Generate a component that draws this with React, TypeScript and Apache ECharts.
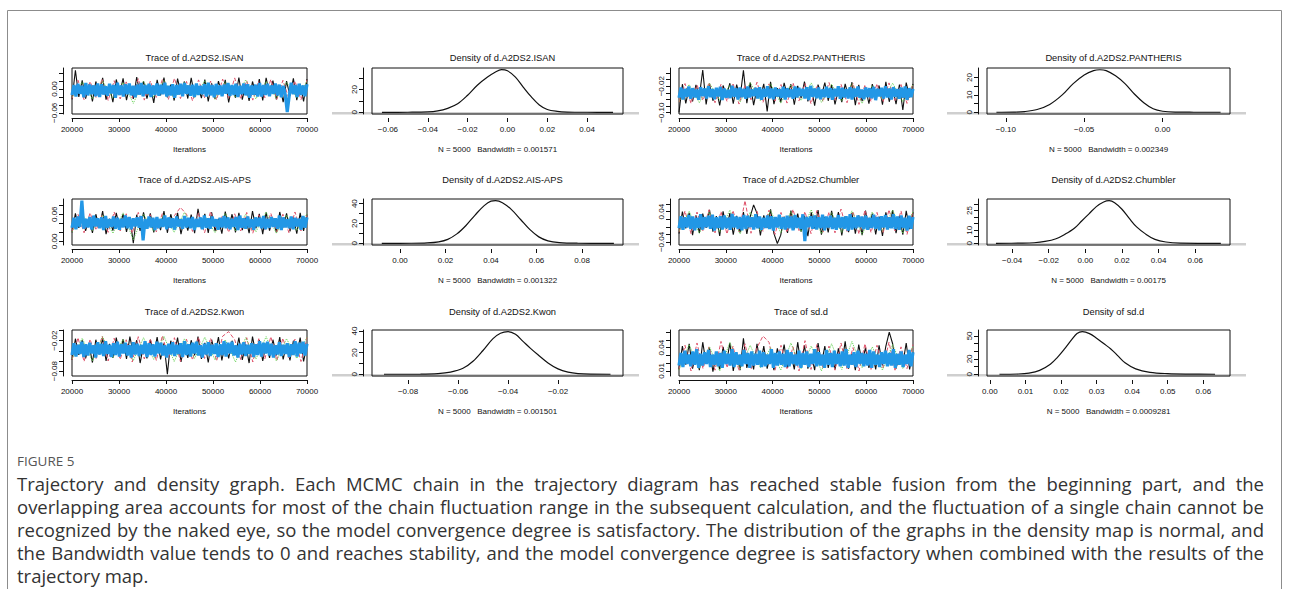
import React, { useEffect, useRef } from "react";
import * as echarts from "echarts";

// ---------------- data ----------------
const ITER_START = 20000;
const ITER_END = 70000;
const ITER_TICKS = [20000, 30000, 40000, 50000, 60000, 70000];

// Trace chains (values in thousandths)
const ISAN_BLUE = [-15,10,-19,13,-12,8,-21,15,-16,11,-13,9,-18,14,-20,12,-14,7,-17,13,
-11,10,-22,16,-15,9,-19,12,-13,14,-16,8,-21,11,-14,15,-18,10,-12,13,
-20,9,-15,14,-17,11,-13,16,-19,8,-16,12,-22,10,-14,13,-18,15,-12,9,
-17,11,-20,14,-15,8,-13,12,-19,16,-16,10,-21,13,-14,9,-18,11,-12,15,
-17,10,-15,13,-20,8,-13,14,-16,12,-22,9,-14,11,-19,15,-19,10,-15,13,
-18,9,-12,14,-16,11,-21,8,-14,-58,-17,16,-13,10,-20,13,-15,9,-18,12];
const ISAN_BLACK = [-26,47,-20,22,-24,12,-31,19,-15,28,-27,8,-33,24,-12,27,-28,10,-25,30,
-14,20,-24,9,-35,23,-16,29,-21,11,-29,26,-13,19,-24,28,-18,7,-23,24,
-31,14,-25,20,-12,23,-34,9,-22,29,-27,12,-30,19,-15,25,-29,28,-13,21,
-26,10,-33,20,-17,27,-28,13,-31,25];
const ISAN_PINK = [-24,22,-27,19,-22,25,-29,21,-25,18,-23,26,-28,20,-21,24,-26,27,-24,19,-30,23,-22,20,-27,25,-23,28,-25,21,-28,19,-22,24,-26,22,-24,20,-27,23];
const ISAN_GREEN = [-21,18,-25,20,-23,16,-36,19,-20,22,-24,17,-22,21,-26,18,-21,23,-25,19,-23,17,-22,20];

const PAN_BLUE = [-55,-24,-60,-28,-52,-21,-58,-26,-54,-30,-61,-23,-50,-27,-57,-20,-53,-29,-59,-25,
-51,-22,-62,-27,-55,-31,-56,-19,-52,-26,-60,-24,-53,-28,-58,-21,-54,-30,-50,-25,
-57,-23,-61,-28,-52,-20,-56,-27,-59,-24,-51,-29,-55,-22,-60,-26,-53,-30,-58,-21,
-54,-25,-50,-28,-57,-23,-62,-19,-52,-27,-56,-24,-59,-30,-53,-22,-55,-26,-61,-28,
-51,-20,-58,-25,-54,-29,-57,-23,-60,-27,-52,-21,-55,-30,-59,-24,-53,-26,-56,-22,
-62,-28,-51,-25,-57,-20,-54,-27,-60,-23,-52,-29,-58,-24,-55,-21,-61,-26,-53,-28];
const PAN_BLACK = [-99,-14,-72,-25,-66,-16,-50,29,-75,-12,-64,-28,-78,-18,-48,-11,-73,-15,-55,28,
-71,-9,-77,-27,-52,-13,-96,-7,-74,-26,-69,-10,-51,-14,-76,-19,-56,-6,-66,-22,
-79,-15,-49,-9,-64,-17,-75,-30,-68,-13,-53,-8,-77,-16,-65,-24,-73,-14,-50,-18,
-76,-7,-67,-26,-74,-15,-92,-9,-54,-13];
const PAN_PINK = [-68,-12,-72,-16,-63,-9,-70,-14,-66,-11,-74,-17,-61,-8,-69,-13,-65,-15,-71,-10,-64,-12,-73,-18,-67,-9,-62,-14,-70,-11,-75,-16,-66,-13,-68,-10,-63,-15,-72,-12];
const PAN_GREEN = [-66,-15,-70,-11,-62,-17,-68,-9,-64,-13,-71,-16,-63,-10,-69,-14,-65,-12,-72,-18,-61,-11,-67,-15];

const AIS_BLUE = [30,52,27,55,32,90,28,50,31,54,26,57,33,51,29,53,25,56,30,49,
32,55,28,52,26,50,31,57,29,54,27,51,33,53,30,56,2,49,28,55,
31,52,25,54,29,50,32,57,27,53,30,51,26,55,33,49,28,56,31,52,
29,54,25,50,32,53,27,57,30,51,28,55,33,49,26,52,31,56,29,53,
27,50,32,54,25,57,30,51,28,55,31,49,26,53,33,52,29,56,27,50,
30,54,32,51,28,57,25,53,31,49,29,55,27,52,33,50,26,56,30,53];
const AIS_BLACK = [20,62,30,59,23,52,19,60,31,67,16,50,24,63,29,61,21,53,-4,59,
23,64,30,62,20,51,25,67,19,60,32,63,16,52,24,59,18,72,28,61,
19,64,23,50,17,66,30,60,20,63,25,52,18,67,29,61,16,64,24,51,
20,65,31,62,22,53,17,63,23,59];
const AIS_PINK = [22,60,19,63,25,58,20,65,23,61,18,64,24,59,21,62,26,57,75,60,22,63,19,66,24,58,20,61,23,64,18,59,25,62,21,60,19,65,23,58];
const AIS_GREEN = [21,61,24,58,18,63,3,60,22,59,20,64,25,57,19,62,23,60,21,65,18,58,24,61];

const CHU_BLUE = [-4,28,-8,25,-2,31,-6,27,-9,24,-3,33,-7,26,-1,29,-5,32,-10,25,
-3,28,-7,30,-4,24,-8,34,-2,27,-6,26,-9,31,-5,29,-1,25,-7,33,
-4,27,-8,24,-3,30,-6,28,-10,26,-2,32,-5,25,-7,29,-4,27,-9,31,
-3,24,-6,33,-38,26,-1,28,-5,30,-7,25,-4,32,-9,27,-2,29,-6,24,
-8,31,-3,26,-5,28,-10,33,-7,25,-4,30,-1,27,-6,29,-8,24,-3,32,
-5,26,-9,28,-2,31,-7,25,-4,33,-6,27,-8,30,-3,24,-10,29,-5,26];
const CHU_BLACK = [-18,40,-4,37,-22,30,-16,35,-3,45,-13,28,-24,41,-5,36,-21,29,-15,39,
-19,27,58,36,-23,30,-2,46,-18,-44,-22,27,-16,43,-6,35,-13,29,-25,38,
-4,44,-21,26,-15,42,-3,39,-23,28,-14,37,-18,30,-22,43,-5,35,-20,27,
-24,38,-2,44,-17,29,-21,42,-6,39];
const CHU_PINK = [-14,42,-18,39,-11,45,-16,40,-19,43,-13,69,-17,41,-12,44,-20,38,-15,46,-10,40,-18,43,-14,39,-16,47,-12,41,-19,44,-15,38,-17,45,-11,42,-20,40];
const CHU_GREEN = [-12,41,-17,38,-14,44,-19,39,-11,43,-16,40,-13,45,-18,37,-15,42,-20,39,-12,44,-17,40];

const KWON_BLUE = [-48,-25,-51,-28,-46,-22,-52,-27,-49,-24,-45,-29,-53,-23,-47,-26,-50,-21,-46,-28,
-52,-25,-48,-22,-51,-27,-45,-24,-49,-29,-53,-23,-47,-26,-50,-28,-46,-21,-52,-25,
-48,-27,-51,-22,-45,-24,-49,-29,-53,-26,-47,-23,-50,-28,-46,-25,-52,-21,-48,-27,
-51,-24,-45,-22,-49,-29,-53,-26,-47,-23,-50,-28,-46,-25,-52,-27,-48,-21,-51,-24,
-45,-22,-49,-29,-53,-26,-47,-23,-50,-28,-46,-25,-52,-27,-48,-21,-51,-24,-45,-22,
-49,-26,-53,-29,-47,-23,-50,-28,-46,-25,-52,-27,-48,-21,-51,-24,-45,-22,-49,-26];
const KWON_BLACK = [-58,-16,-48,-19,-55,-27,-63,-18,-47,-15,-60,-26,-54,-14,-49,-17,-56,-12,-46,-19,
-64,-28,-55,-18,-48,-13,-57,-25,-86,-20,-47,-14,-62,-27,-54,-19,-49,-12,-56,-24,
-63,-18,-46,-13,-59,-26,-55,-20,-48,-14,-58,-27,-64,-12,-47,-19,-60,-25,-54,-18,
-49,-13,-57,-26,-59,-20,-46,-14,-61,-28];
const KWON_PINK = [-58,-14,-61,-17,-55,-11,-60,-15,-57,-18,-62,-12,-56,-16,-59,-10,-54,-14,-61,-17,-58,-13,-55,-15,-60,-11,-2,-18,-57,-14,-62,-16,-56,-12,-59,-15,-54,-17,-61,-13];
const KWON_GREEN = [-56,-15,-60,-12,-54,-17,-59,-14,-57,-11,-61,-16,-55,-13,-58,-18,-62,-14,-56,-12,-60,-16,-55,-13];

const SDD_BLUE = [17,33,15,36,19,31,16,35,18,38,14,32,17,34,19,37,15,31,18,35,
16,33,14,36,19,32,17,38,15,34,18,31,16,37,19,33,14,35,17,32,
18,36,15,34,16,31,19,38,14,33,17,35,18,32,15,37,16,34,19,31,
17,36,14,33,18,35,15,32,19,38,16,34,17,31,14,37,18,33,15,36,
19,32,16,35,17,38,14,31,18,34,15,36,19,33,16,32,17,37,14,35,
18,31,15,34,19,36,16,33,17,38,14,32,18,35,15,31,19,37,16,34];
const SDD_BLACK = [12,42,18,45,13,33,11,47,19,39,9,32,12,41,20,46,10,34,11,52,
14,31,12,45,18,42,13,33,11,39,20,44,14,32,12,47,17,43,13,31,
11,46,19,42,14,33,12,39,18,48,13,32,11,44,20,40,14,33,12,43,
17,42,60,45,13,31,19,46,12,34];
const SDD_PINK = [12,43,10,46,13,41,11,48,14,42,10,45,12,40,55,47,11,43,13,41,10,49,12,44,14,42,11,46,13,40,10,45,12,43,14,47,11,41,13,44];
const SDD_GREEN = [11,44,13,41,10,47,12,43,14,40,11,46,13,42,10,45,12,48,14,41,11,44,13,42];

// Density curves (x, density)
const ISAN_DX = [-0.063,-0.05,-0.04,-0.035,-0.03,-0.025,-0.02,-0.015,-0.01,-0.006,-0.003,0,0.004,0.008,0.012,0.016,0.02,0.025,0.03,0.04,0.053];
const ISAN_DY = [0,0.05,0.3,1.2,3.5,7.5,15,24,31,35.5,37.5,36.5,31,22,13.5,6.5,2.5,0.8,0.2,0.02,0];
const PAN_DX = [-0.106,-0.095,-0.088,-0.08,-0.072,-0.064,-0.057,-0.05,-0.044,-0.04,-0.036,-0.03,-0.024,-0.018,-0.012,-0.006,0,0.008,0.02,0.037];
const PAN_DY = [0,0.1,0.4,1.6,4.5,10,16.5,21.5,24,24.5,24,21,16.5,10.5,5.5,2,0.6,0.1,0.02,0];
const AIS_DX = [-0.008,0.005,0.012,0.017,0.021,0.025,0.029,0.033,0.037,0.04,0.042,0.045,0.049,0.053,0.057,0.061,0.065,0.07,0.078,0.094];
const AIS_DY = [0,0.05,0.4,1.5,4,9.5,18,28.5,38,42.5,43,41,34,24,14,6.5,2.5,0.7,0.1,0];
const CHU_DX = [-0.0488,-0.035,-0.028,-0.022,-0.016,-0.011,-0.006,-0.002,0.002,0.006,0.01,0.013,0.016,0.02,0.024,0.028,0.033,0.038,0.044,0.052,0.074];
const CHU_DY = [0,0.1,0.4,1.4,3.5,7,11.5,17,22.5,28,31.5,32.5,31,26,19,12.5,7,3,1,0.2,0];
const KWON_DX = [-0.0896,-0.075,-0.068,-0.063,-0.058,-0.054,-0.05,-0.046,-0.043,-0.04,-0.037,-0.034,-0.031,-0.028,-0.024,-0.02,-0.016,-0.012,-0.007,0.001];
const KWON_DY = [0,0.1,0.6,2,5.5,12,22,33,38,39.5,37,30.5,24,18,10.5,5,2,0.6,0.1,0];
const SDD_DX = [0.0027,0.008,0.011,0.014,0.017,0.019,0.021,0.023,0.0245,0.026,0.028,0.03,0.032,0.034,0.036,0.038,0.041,0.045,0.05,0.056,0.0633];
const SDD_DY = [0,0.3,1.5,5,13,22,33,45,53,55.5,53,47,40,33,24,15,7,2.5,0.8,0.2,0];

const CAPTION_LINES = [
  "Trajectory and density graph. Each MCMC chain in the trajectory diagram has reached stable fusion from the beginning part, and the",
  "overlapping area accounts for most of the chain fluctuation range in the subsequent calculation, and the fluctuation of a single chain cannot be",
  "recognized by the naked eye, so the model convergence degree is satisfactory. The distribution of the graphs in the density map is normal, and",
  "the Bandwidth value tends to 0 and reaches stability, and the model convergence degree is satisfactory when combined with the results of the",
  "trajectory map.",
];

// ---------------- layout / style ----------------
const COLS = [
  { l: 72, r: 307 },
  { l: 372, r: 623 },
  { l: 679, r: 913 },
  { l: 987, r: 1230 },
];
const ROW_TOP = [68, 199, 330];
const TITLE_Y = [58, 180, 312];
const BOX_H = 46;
const FONT = '"Liberation Sans", Arial, sans-serif';
const CAP_FONT_NAME = "Open Sans";
const CAP_SIZE = 18.5;
const CAP_LEFT = 17;
const CAP_RIGHT = 1264;
const C_BLACK = "#111111";
const C_PINK = "#DF536B";
const C_GREEN = "#61D04F";
const C_BLUE = "#2297E6";

type TracePanel = {
  title: string; row: number; col: number; yMin: number; yMax: number;
  yTicks: number[]; yLabels: number[];
  black: number[]; pink: number[]; green: number[]; blue: number[];
};
type DensPanel = {
  title: string; row: number; col: number; xMin: number; xMax: number; xTicks: number[];
  yMin: number; yMax: number; yTicks: number[]; yLabels: number[];
  dx: number[]; dy: number[]; bw: string;
};

const TRACES: TracePanel[] = [
  { title: "Trace of d.A2DS2.ISAN", row: 0, col: 0, yMin: -0.063, yMax: 0.053, yTicks: [-0.06,-0.04,-0.02,0,0.02,0.04], yLabels: [-0.06,0], black: ISAN_BLACK, pink: ISAN_PINK, green: ISAN_GREEN, blue: ISAN_BLUE },
  { title: "Trace of d.A2DS2.PANTHERIS", row: 0, col: 2, yMin: -0.104, yMax: 0.035, yTicks: [-0.1,-0.08,-0.06,-0.04,-0.02,0,0.02], yLabels: [-0.1,-0.02], black: PAN_BLACK, pink: PAN_PINK, green: PAN_GREEN, blue: PAN_BLUE },
  { title: "Trace of d.A2DS2.AIS-APS", row: 1, col: 0, yMin: -0.008, yMax: 0.0937, yTicks: [0,0.02,0.04,0.06,0.08], yLabels: [0,0.06], black: AIS_BLACK, pink: AIS_PINK, green: AIS_GREEN, blue: AIS_BLUE },
  { title: "Trace of d.A2DS2.Chumbler", row: 1, col: 2, yMin: -0.048, yMax: 0.0734, yTicks: [-0.04,-0.02,0,0.02,0.04,0.06], yLabels: [-0.04,0.04], black: CHU_BLACK, pink: CHU_PINK, green: CHU_GREEN, blue: CHU_BLUE },
  { title: "Trace of d.A2DS2.Kwon", row: 2, col: 0, yMin: -0.0896, yMax: 0.0012, yTicks: [-0.08,-0.06,-0.04,-0.02,0], yLabels: [-0.08,-0.02], black: KWON_BLACK, pink: KWON_PINK, green: KWON_GREEN, blue: KWON_BLUE },
  { title: "Trace of sd.d", row: 2, col: 2, yMin: 0.0035, yMax: 0.0627, yTicks: [0.01,0.02,0.03,0.04,0.05,0.06], yLabels: [0.01,0.04], black: SDD_BLACK, pink: SDD_PINK, green: SDD_GREEN, blue: SDD_BLUE },
];

const DENS: DensPanel[] = [
  { title: "Density of d.A2DS2.ISAN", row: 0, col: 1, xMin: -0.068, xMax: 0.058, xTicks: [-0.06,-0.04,-0.02,0,0.02,0.04], yMin: -1.5, yMax: 39, yTicks: [0,10,20,30], yLabels: [0,20], dx: ISAN_DX, dy: ISAN_DY, bw: "0.001571" },
  { title: "Density of d.A2DS2.PANTHERIS", row: 0, col: 3, xMin: -0.112, xMax: 0.043, xTicks: [-0.1,-0.05,0], yMin: -1, yMax: 25.5, yTicks: [0,5,10,15,20], yLabels: [0,10,20], dx: PAN_DX, dy: PAN_DY, bw: "0.002349" },
  { title: "Density of d.A2DS2.AIS-APS", row: 1, col: 1, xMin: -0.0123, xMax: 0.098, xTicks: [0,0.02,0.04,0.06,0.08], yMin: -1.7, yMax: 44.7, yTicks: [0,10,20,30,40], yLabels: [0,20,40], dx: AIS_DX, dy: AIS_DY, bw: "0.001322" },
  { title: "Density of d.A2DS2.Chumbler", row: 1, col: 3, xMin: -0.0537, xMax: 0.079, xTicks: [-0.04,-0.02,0,0.02,0.04,0.06], yMin: -1.3, yMax: 33.8, yTicks: [0,5,10,15,20,25,30], yLabels: [0,10,25], dx: CHU_DX, dy: CHU_DY, bw: "0.00175" },
  { title: "Density of d.A2DS2.Kwon", row: 2, col: 1, xMin: -0.0944, xMax: 0.006, xTicks: [-0.08,-0.06,-0.04,-0.02], yMin: -1.6, yMax: 41, yTicks: [0,10,20,30,40], yLabels: [0,20,40], dx: KWON_DX, dy: KWON_DY, bw: "0.001501" },
  { title: "Density of sd.d", row: 2, col: 3, xMin: -0.0008, xMax: 0.0675, xTicks: [0,0.01,0.02,0.03,0.04,0.05,0.06], yMin: -2.3, yMax: 57.7, yTicks: [0,10,20,30,40,50], yLabels: [0,20,50], dx: SDD_DX, dy: SDD_DY, bw: "0.0009281" },
];

const fmtDec = (v: number) => {
  const s = Math.abs(v) < 1e-12 ? "0.00" : Math.abs(v).toFixed(2);
  return (v < -1e-12 ? "\u2212" : "") + s;
};

function chainData(arr: number[]) {
  const n = arr.length;
  return arr.map((v, i) => [ITER_START + (i * (ITER_END - ITER_START)) / (n - 1), v / 1000]);
}

function captionGraphics(): any[] {
  const out: any[] = [];
  const ctx = document.createElement("canvas").getContext("2d");
  const font = `${CAP_SIZE}px "${CAP_FONT_NAME}"`;
  if (ctx) ctx.font = font;
  const width = (t: string) => (ctx ? ctx.measureText(t).width : t.length * CAP_SIZE * 0.5);
  CAPTION_LINES.forEach((line, li) => {
    const y = 483 + li * 23;
    const words = line.split(" ");
    const last = li === CAPTION_LINES.length - 1;
    const ws = words.map(width);
    const total = ws.reduce((a, b) => a + b, 0);
    const gap = last || words.length < 2 ? width(" ") : (CAP_RIGHT - CAP_LEFT - total) / (words.length - 1);
    let x = CAP_LEFT;
    words.forEach((w, wi) => {
      out.push({
        type: "text", x, y, silent: true,
        style: { text: w, fontSize: CAP_SIZE, fontFamily: `"${CAP_FONT_NAME}", sans-serif`, fill: "#333333", align: "left", verticalAlign: "middle" },
      });
      x += ws[wi] + gap;
    });
  });
  return out;
}

function buildOption() {
  const grid: any[] = [];
  const xAxis: any[] = [];
  const yAxis: any[] = [];
  const series: any[] = [];
  const graphic: any[] = [];

  const tickStyle = { color: C_BLACK, width: 1 };
  const labelBase = { fontSize: 8, color: "#111111", fontFamily: FONT };

  const addGrid = (row: number, col: number) => {
    const c = COLS[col];
    grid.push({
      left: c.l, top: ROW_TOP[row], width: c.r - c.l, height: BOX_H,
      show: true, borderColor: C_BLACK, borderWidth: 1, backgroundColor: "transparent",
    });
    return grid.length - 1;
  };

  const addTitle = (text: string, row: number, col: number) => {
    const c = COLS[col];
    graphic.push({
      type: "text", x: (c.l + c.r) / 2 + 5, y: TITLE_Y[row], silent: true,
      style: { text, fontSize: 9.3, fontFamily: FONT, fill: "#111111", align: "center", verticalAlign: "middle" },
    });
  };

  TRACES.forEach((p) => {
    const gi = addGrid(p.row, p.col);
    addTitle(p.title, p.row, p.col);
    xAxis.push({
      gridIndex: gi, type: "value", min: ITER_START, max: ITER_END, interval: 10000, offset: 4,
      axisLine: { show: true, onZero: false, lineStyle: tickStyle },
      axisTick: { show: true, length: 4, lineStyle: tickStyle, customValues: ITER_TICKS },
      axisLabel: { ...labelBase, margin: 7, customValues: ITER_TICKS, formatter: (v: number) => String(Math.round(v)) },
      splitLine: { show: false },
      name: "Iterations", nameLocation: "middle", nameGap: 27,
      nameTextStyle: { ...labelBase },
    });
    yAxis.push({
      gridIndex: gi, type: "value", min: p.yMin, max: p.yMax, offset: 9,
      axisLine: { show: true, onZero: false, lineStyle: tickStyle },
      axisTick: { show: true, length: 4, lineStyle: tickStyle, customValues: p.yTicks },
      axisLabel: { ...labelBase, rotate: 90, margin: 5, customValues: p.yLabels, formatter: fmtDec },
      splitLine: { show: false },
    });
    const ax = xAxis.length - 1;
    const chains = [
      { d: p.black, c: C_BLACK, t: "solid", w: 1.1 },
      { d: p.pink, c: C_PINK, t: "dashed", w: 1 },
      { d: p.green, c: C_GREEN, t: "dotted", w: 1 },
      { d: p.blue, c: C_BLUE, t: "solid", w: 3.2 },
    ];
    chains.forEach((ch) => {
      series.push({
        type: "line", xAxisIndex: ax, yAxisIndex: ax, data: chainData(ch.d),
        showSymbol: false, silent: true, clip: true,
        lineStyle: { color: ch.c, width: ch.w, type: ch.t, join: "bevel" },
      });
    });
  });

  DENS.forEach((p) => {
    const gi = addGrid(p.row, p.col);
    addTitle(p.title, p.row, p.col);
    const c = COLS[p.col];
    const zeroY = ROW_TOP[p.row] + (BOX_H * p.yMax) / (p.yMax - p.yMin);
    graphic.push({
      type: "line", silent: true, z: -1,
      shape: { x1: c.l - 40, y1: zeroY + 1, x2: c.r + 16, y2: zeroY + 1 },
      style: { stroke: "#cfcfcf", lineWidth: 2.5 },
    });
    xAxis.push({
      gridIndex: gi, type: "value", min: p.xMin, max: p.xMax, offset: 4,
      axisLine: { show: false, onZero: false },
      axisTick: { show: true, length: 4, lineStyle: tickStyle, customValues: p.xTicks },
      axisLabel: { ...labelBase, margin: 7, customValues: p.xTicks, formatter: fmtDec },
      splitLine: { show: false },
      name: "N = 5000   Bandwidth = " + p.bw, nameLocation: "middle", nameGap: 27,
      nameTextStyle: { ...labelBase },
    });
    yAxis.push({
      gridIndex: gi, type: "value", min: p.yMin, max: p.yMax, offset: 9,
      axisLine: { show: true, onZero: false, lineStyle: tickStyle },
      axisTick: { show: true, length: 4, lineStyle: tickStyle, customValues: p.yTicks },
      axisLabel: { ...labelBase, rotate: 90, margin: 5, customValues: p.yLabels, formatter: (v: number) => String(v) },
      splitLine: { show: false },
    });
    const ax = xAxis.length - 1;
    series.push({
      type: "line", xAxisIndex: ax, yAxisIndex: ax,
      data: p.dx.map((x, i) => [x, p.dy[i]]),
      smooth: 0.35, showSymbol: false, silent: true, clip: true,
      lineStyle: { color: C_BLACK, width: 1.2 },
    });
  });

  // frame
  graphic.push({
    type: "rect", silent: true, z: -2,
    shape: { x: 7.5, y: 10.5, width: 1274, height: 700 },
    style: { fill: "none", stroke: "#8c8c8c", lineWidth: 1 },
  });
  graphic.push({
    type: "text", x: 17, y: 461, silent: true,
    style: { text: "FIGURE 5", fontSize: 13.5, fontFamily: `"${CAP_FONT_NAME}", sans-serif`, fill: "#555555", align: "left", verticalAlign: "middle" },
  });
  captionGraphics().forEach((g) => graphic.push(g));

  return { animation: false, backgroundColor: "#ffffff", grid, xAxis, yAxis, series, graphic };
}

export default function App() {
  const ref = useRef<HTMLDivElement>(null);
  useEffect(() => {
    document.body.style.margin = "0";
    if (!ref.current) return;
    const chart = echarts.init(ref.current, undefined, { renderer: "svg" });
    chart.setOption(buildOption());
    return () => chart.dispose();
  }, []);
  return <div ref={ref} style={{ width: 1289, height: 589 }} />;
}
